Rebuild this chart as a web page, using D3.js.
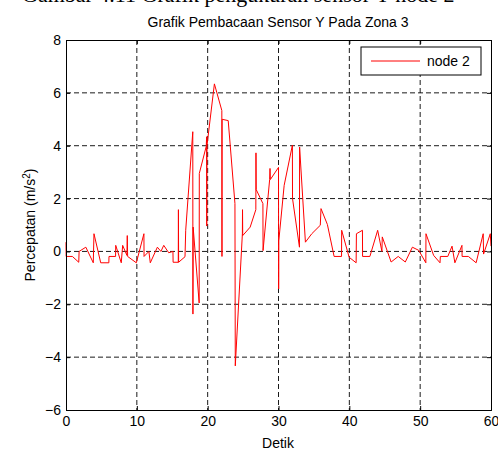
<!DOCTYPE html>
<html lang="en">
<head>
    <meta charset="UTF-8">
    <title>Grafik Pembacaan Sensor Y Pada Zona 3</title>
    <script src="https://d3js.org/d3.v7.min.js"></script>
    <style>
        body { margin: 0; background: #fff; }
        svg text { font-family: "Liberation Sans", Arial, sans-serif; fill: #000; }
        .grid line { stroke: #000; stroke-dasharray: 5,3; stroke-width: 0.9; }
    </style>
</head>
<body>
    <script>
        // series (time in seconds, acceleration in m/s^2)
        const detik = [
            0, 0.02, 0.9, 1.8, 1.85, 2.8, 3.85, 3.95, 4.9, 6.05, 6.07, 7.0, 7.02, 7.8, 8.0, 8.6, 8.65, 8.7, 9.93,
            11.0, 11.02, 11.7, 11.9, 12.9, 13.4, 13.8, 14.5, 15.1, 15.12, 15.85, 15.87, 15.9, 16.8, 16.9,
            17.9, 17.92, 17.95, 18.8, 18.82, 19.8, 19.85, 19.87, 19.9, 20.95, 22.0, 22.02, 22.04, 22.9, 23.85, 23.9,
            24.9, 24.92, 24.95, 26.0, 26.8, 26.82, 26.85, 27.8, 27.82, 28.75, 28.8, 28.85, 30.0, 30.02, 30.04, 30.8,
            31.96, 31.98, 32.96, 32.98, 33.8, 34.7, 35.9, 36.0, 36.9, 37.85, 38.9, 38.92, 39.97, 40.96, 41.0,
            41.85, 41.87, 42.9, 44.0, 44.6, 44.65, 45.9, 46.9, 47.9, 48.9, 49.8, 50.8, 50.82, 51.9, 52.8, 52.85,
            53.9, 54.5, 54.9, 55.9, 55.92, 56.8, 57.9, 58.9, 58.95, 59.9, 60
        ];
        const node2 = [
            0.35, -0.19, -0.19, -0.41, 0.0, 0.16, -0.43, 0.67, -0.43, -0.43, -0.19, -0.19, 0.23, -0.43, 0.23, -0.15, 0.6, -0.19, -0.43,
            0.67, -0.19, 0.0, -0.43, 0.16, 0.0, 0.23, -0.05, 0.0, -0.41, -0.41, 1.58, -0.41, -0.2, 0.8,
            4.53, -2.37, 0.92, -1.95, 2.95, 3.98, 4.34, 0.96, 4.0, 6.34, 5.33, -0.19, 5.0, 4.95, 1.81, -4.33,
            0.67, 1.58, 0.6, 0.92, 1.58, 3.73, 2.34, 1.81, 0.03, 2.72, 3.14, 2.72, 3.18, -1.42, 0.4, 2.5,
            4.02, 2.0, 0.16, 3.95, 0.35, 0.67, 0.99, 1.62, 1.02, -0.19, -0.19, 0.8, -0.22, -0.43, 0.67,
            0.8, -0.19, -0.19, 0.8, 0.0, 0.55, -0.4, -0.19, -0.4, 0.16, 0.04, -0.43, 0.67, -0.15, -0.43, -0.19,
            -0.19, 0.2, -0.43, 0.23, -0.19, -0.19, -0.43, 0.67, -0.1, 0.67, 0.2
        ];
        const xTicks = [0, 10, 20, 30, 40, 50, 60];
        const yTicks = [-6, -4, -2, 0, 2, 4, 6, 8];

        const width = 498, height = 454;
        const mLeft = 66, mRight = 491, mTop = 40, mBottom = 410;

        const svg = d3.select("body").append("svg")
            .attr("width", width)
            .attr("height", height);

        const x = d3.scaleLinear().domain([0, 60]).range([mLeft, mRight]);
        const y = d3.scaleLinear().domain([-6, 8]).range([mBottom, mTop]);

        // caption of the page above, cut off by the crop
        svg.append("text")
            .attr("x", 22).attr("y", 2)
            .style("font-family", "'Liberation Serif', 'Times New Roman', serif")
            .style("font-size", "22px")
            .text("Gambar 4.11 Grafik pengukuran sensor Y node 2");

        // grid
        const grid = svg.append("g").attr("class", "grid");
        grid.selectAll(".gx").data(xTicks.slice(1, -1)).enter().append("line")
            .attr("x1", d => x(d)).attr("x2", d => x(d))
            .attr("y1", mTop).attr("y2", mBottom);
        grid.selectAll(".gy").data(yTicks.slice(1, -1)).enter().append("line")
            .attr("x1", mLeft).attr("x2", mRight)
            .attr("y1", d => y(d)).attr("y2", d => y(d));

        // data line
        const pts = detik.map((t, i) => [t, node2[i]]);
        svg.append("path")
            .datum(pts)
            .attr("fill", "none")
            .attr("stroke", "#ff0000")
            .attr("stroke-width", 1)
            .attr("d", d3.line().x(d => x(d[0])).y(d => y(d[1])));

        // axes (ticks inside, box on all sides)
        const ax = svg.append("g").attr("transform", `translate(0,${mBottom})`)
            .call(d3.axisBottom(x).tickValues(xTicks).tickSize(-4).tickPadding(6));
        const ay = svg.append("g").attr("transform", `translate(${mLeft},0)`)
            .call(d3.axisLeft(y).tickValues(yTicks).tickSize(-4).tickPadding(5));
        svg.append("g").attr("transform", `translate(0,${mTop})`)
            .call(d3.axisTop(x).tickValues(xTicks).tickSize(-4).tickFormat(""));
        svg.append("g").attr("transform", `translate(${mRight},0)`)
            .call(d3.axisRight(y).tickValues(yTicks).tickSize(-4).tickFormat(""));
        svg.selectAll(".domain").attr("stroke", "#000");
        svg.selectAll(".tick line").attr("stroke", "#000");
        svg.selectAll(".tick text").style("font-size", "14px")
            .style("font-family", "'Liberation Sans', Arial, sans-serif");

        // title and labels
        svg.append("text")
            .attr("x", 278).attr("y", 27)
            .attr("text-anchor", "middle")
            .style("font-size", "14px")
            .text("Grafik Pembacaan Sensor Y Pada Zona 3");
        svg.append("text")
            .attr("x", 278).attr("y", 448)
            .attr("text-anchor", "middle")
            .style("font-size", "14px")
            .text("Detik");
        const yl = svg.append("text")
            .attr("transform", "translate(35,225) rotate(-90)")
            .attr("text-anchor", "middle")
            .style("font-size", "14px");
        yl.append("tspan").text("Percepatan (m/s");
        yl.append("tspan").attr("dy", -5).style("font-size", "10px").text("2");
        yl.append("tspan").attr("dy", 5).text(")");

        // legend
        const lg = svg.append("g");
        lg.append("rect")
            .attr("x", 361).attr("y", 47).attr("width", 120).attr("height", 28)
            .attr("fill", "#fff").attr("stroke", "#000");
        lg.append("line")
            .attr("x1", 371).attr("x2", 420).attr("y1", 61).attr("y2", 61)
            .attr("stroke", "#ff0000");
        lg.append("text")
            .attr("x", 427).attr("y", 66)
            .style("font-size", "14px")
            .text("node 2");
    </script>
</body>
</html>
